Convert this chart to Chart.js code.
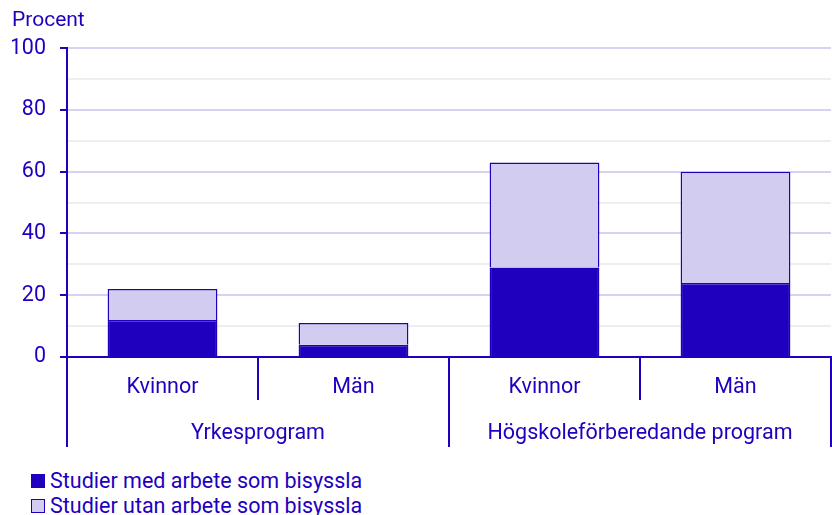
<!DOCTYPE html>
<html>
<head>
<meta charset="utf-8">
<script src="https://cdn.jsdelivr.net/npm/chart.js@4.4.1/dist/chart.umd.min.js"></script>
<style>
  body { margin: 0; background: #fff; font-family: Roboto, sans-serif; }
  #wrap { position: relative; width: 832px; height: 515px; }
  #box { position: absolute; left: 0; top: 0; width: 832px; height: 460px; }
  #legend { position: absolute; left: 31px; top: 468px; color: #1e00be; font-size: 21.5px; line-height: 25px; }
  .item { display: flex; align-items: center; height: 25px; }
  .sw { width: 14px; height: 14px; margin-right: 5px; box-sizing: border-box; border: 1px solid #1e00be; }
</style>
</head>
<body>
<div id="wrap">
  <div id="box"><canvas id="chart"></canvas></div>
  <div id="legend"></div>
</div>
<script>
const categories = ["Kvinnor", "Män", "Kvinnor", "Män"];
const groups = ["Yrkesprogram", "Högskoleförberedande program"];
const medArbete = [12, 4, 29, 24];
const utanArbete = [10, 7, 34, 36];
const seriesNames = ["Studier med arbete som bisyssla", "Studier utan arbete som bisyssla"];

const dark = "#1e00be";
const light = "#d1ccf0";

Chart.defaults.font.family = "Roboto";
Chart.defaults.font.size = 21.5;
Chart.defaults.color = dark;

const datasets = [
  { label: seriesNames[0], data: medArbete, backgroundColor: dark, borderColor: dark, borderWidth: 1.5 },
  { label: seriesNames[1], data: utanArbete, backgroundColor: light, borderColor: dark, borderWidth: 1.5 }
];

new Chart(document.getElementById("chart"), {
  type: "bar",
  data: { labels: categories, datasets },
  options: {
    responsive: true,
    maintainAspectRatio: false,
    animation: false,
    layout: { padding: { left: 12, right: 1, top: 4, bottom: 13 } },
    datasets: { bar: { categoryPercentage: 1, barPercentage: 0.575 } },
    plugins: {
      legend: { display: false },
      tooltip: { enabled: false },
      title: {
        display: true, text: "Procent", align: "start",
        color: dark, font: { size: 21, weight: "normal" },
        padding: { top: 4, bottom: 15 }
      }
    },
    scales: {
      x: {
        stacked: true,
        offset: true,
        afterFit: (s) => { s.height = 43; },
        grid: { offset: true, drawOnChartArea: false, tickLength: 43, color: dark, lineWidth: 2 },
        border: { color: dark, width: 2 },
        ticks: { padding: -25, color: dark, maxRotation: 0, autoSkip: false }
      },
      x2: {
        type: "category",
        labels: groups,
        position: "bottom",
        offset: true,
        afterFit: (s) => { s.height = 47; },
        grid: { offset: true, drawOnChartArea: false, tickLength: 47, color: dark, lineWidth: 2 },
        border: { display: false },
        ticks: { padding: -26, color: dark, maxRotation: 0, autoSkip: false }
      },
      y: {
        stacked: true,
        min: 0,
        max: 100,
        afterFit: (s) => { s.width = 55; },
        ticks: {
          stepSize: 10,
          padding: 14,
          color: dark,
          callback: (v) => (v % 20 === 0 ? v : "")
        },
        grid: {
          tickLength: 7,
          lineWidth: 2,
          color: (c) => (c.tick && c.tick.value % 20 === 0 ? "#d6d2f2" : "#eeeeee"),
          tickColor: (c) => (c.tick && c.tick.value % 20 === 0 ? dark : "rgba(0,0,0,0)")
        },
        border: { color: dark, width: 2 }
      }
    }
  }
});

// legend as plain text under the chart
const legend = document.getElementById("legend");
datasets.forEach((d) => {
  const row = document.createElement("div");
  row.className = "item";
  const sw = document.createElement("span");
  sw.className = "sw";
  sw.style.background = d.backgroundColor;
  const txt = document.createElement("span");
  txt.textContent = d.label;
  row.appendChild(sw);
  row.appendChild(txt);
  legend.appendChild(row);
});
</script>
</body>
</html>
